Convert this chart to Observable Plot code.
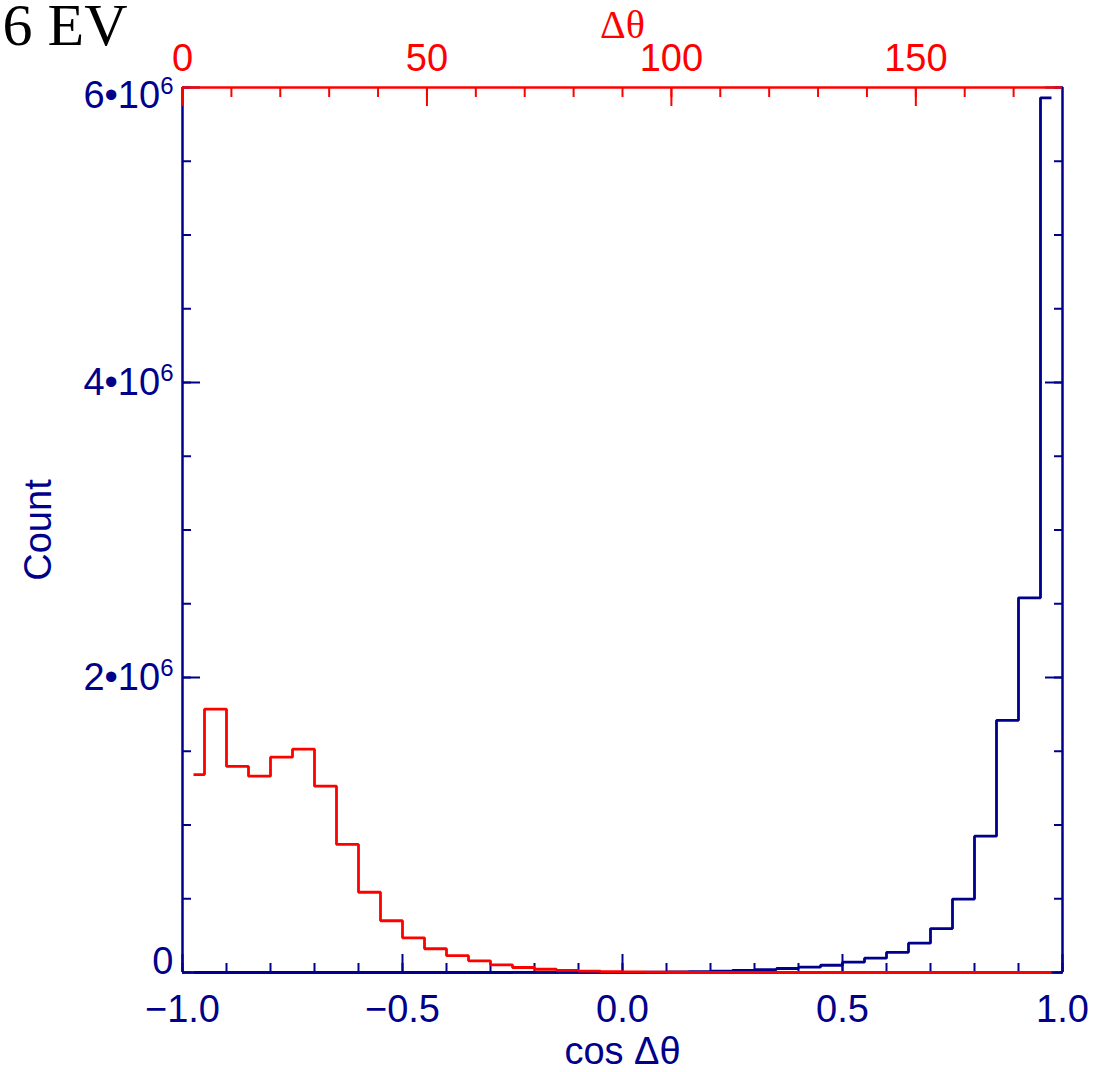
<!DOCTYPE html>
<html>
<head>
<meta charset="utf-8">
<script src="https://cdn.jsdelivr.net/npm/d3@7"></script>
<script src="https://cdn.jsdelivr.net/npm/@observablehq/plot@0.6"></script>
<style>
html, body { margin: 0; padding: 0; background: #fff; }
#chart { position: relative; width: 1095px; height: 1072px; }
#chart svg { position: absolute; left: 0; top: 0; }
</style>
</head>
<body>
<div id="chart"></div>
<script>
// ---------- data ----------
const title = "6 EV";
const xLabel = "cos Δθ";
const topLabel = "Δθ";
const yLabel = "Count";

const cosDomain = [-1, 1];
const thetaDomain = [0, 180];
const countDomain = [0, 6e6];

// blue histogram: bin centres of cos Δθ (width 0.05) and counts
const cosCenters = [-0.975, -0.925, -0.875, -0.825, -0.775, -0.725, -0.675, -0.625, -0.575, -0.525,
  -0.475, -0.425, -0.375, -0.325, -0.275, -0.225, -0.175, -0.125, -0.075, -0.025,
  0.025, 0.075, 0.125, 0.175, 0.225, 0.275, 0.325, 0.375, 0.425, 0.475,
  0.525, 0.575, 0.625, 0.675, 0.725, 0.775, 0.825, 0.875, 0.925, 0.975];
const cosCounts = [0, 0, 0, 0, 0, 0, 0, 0, 0, 0,
  0, 0, 0, 0, 100, 200, 300, 400, 600, 900,
  1500, 2500, 4000, 6500, 10000, 15000, 20000, 27000, 36000, 49000,
  70000, 97000, 137000, 199000, 298000, 498000, 924000, 1710000, 2540000, 5930000];

// red histogram: bin centres of Δθ in degrees (width 4.5) and counts
const thetaCenters = [2.25, 6.75, 11.25, 15.75, 20.25, 24.75, 29.25, 33.75, 38.25, 42.75,
  47.25, 51.75, 56.25, 60.75, 65.25, 69.75, 74.25, 78.75, 83.25, 87.75,
  92.25, 96.75, 101.25, 105.75, 110.25, 114.75, 119.25, 123.75, 128.25, 132.75,
  137.25, 141.75, 146.25, 150.75, 155.25, 159.75, 164.25, 168.75, 173.25, 177.75];
const thetaCounts = [1342000, 1785000, 1397000, 1331000, 1460000, 1514000, 1263000, 868000, 544000, 351000,
  235000, 161000, 114000, 79000, 52000, 34000, 22000, 14000, 9000, 6000,
  4000, 2800, 1800, 1200, 800, 500, 300, 200, 100, 0,
  0, 0, 0, 0, 0, 0, 0, 0, 0, 0];

// ticks
const cosMajorTicks = [-1, -0.5, 0, 0.5, 1];
const cosMinorTicks = [-1, -0.9, -0.8, -0.7, -0.6, -0.5, -0.4, -0.3, -0.2, -0.1, 0,
  0.1, 0.2, 0.3, 0.4, 0.5, 0.6, 0.7, 0.8, 0.9, 1];
const thetaMajorTicks = [0, 50, 100, 150];
const thetaMinorTicks = [0, 10, 20, 30, 40, 50, 60, 70, 80, 90, 100, 110, 120, 130, 140, 150, 160, 170];
const countMajorTicks = [0, 2e6, 4e6, 6e6];
const countMinorTicks = [0, 5e5, 1e6, 1.5e6, 2e6, 2.5e6, 3e6, 3.5e6, 4e6, 4.5e6, 5e6, 5.5e6, 6e6];

// ---------- styling ----------
const NAVY = "#00008b";
const RED = "#ff0000";
const SANS = "'Liberation Sans', Arial, Helvetica, sans-serif";
const SERIF = "'Liberation Serif', 'Times New Roman', serif";
const FS = 38;
const common = {width: 1095, height: 1072, marginLeft: 182, marginRight: 33, marginTop: 87, marginBottom: 100};
const noText = () => "";

const bluePlot = Plot.plot({
  ...common,
  style: {fontFamily: SANS, fontSize: FS + "px", color: NAVY, background: "white", overflow: "visible"},
  x: {domain: cosDomain},
  y: {domain: countDomain},
  marks: [
    Plot.line(cosCenters.map((c, i) => [c, cosCounts[i]]), {curve: "step", stroke: NAVY, strokeWidth: 2.8, strokeLinecap: "butt", strokeLinejoin: "miter"}),
    Plot.ruleX([cosDomain[0], cosDomain[1]], {stroke: NAVY, strokeWidth: 2.5}),
    Plot.ruleY([countDomain[0]], {stroke: NAVY, strokeWidth: 2.5}),
    // bottom axis (inward ticks)
    Plot.axisX({anchor: "bottom", ticks: cosMajorTicks, tickSize: 18, dy: -18, tickFormat: noText, label: null, strokeWidth: 2}),
    Plot.axisX({anchor: "bottom", ticks: cosMinorTicks, tickSize: 9, dy: -9, tickFormat: noText, label: null, strokeWidth: 2}),
    Plot.axisX({anchor: "bottom", ticks: cosMajorTicks, tickSize: 0, tickPadding: 23, tickFormat: d3.format(".1f"), label: null, fontSize: FS}),
    // left axis
    Plot.axisY({anchor: "left", ticks: countMajorTicks, tickSize: 18, dx: 18, tickFormat: noText, label: null, strokeWidth: 2}),
    Plot.axisY({anchor: "left", ticks: countMinorTicks, tickSize: 9, dx: 9, tickFormat: noText, label: null, strokeWidth: 2}),
    Plot.axisY({anchor: "left", ticks: countMajorTicks, tickSize: 0, tickPadding: 9, tickFormat: d => d === 0 ? "0" : `${d / 1e6}•10^6`, label: null, fontSize: FS}),
    // right axis (ticks only)
    Plot.axisY({anchor: "right", ticks: countMajorTicks, tickSize: 18, dx: -18, tickFormat: noText, label: null, strokeWidth: 2}),
    Plot.axisY({anchor: "right", ticks: countMinorTicks, tickSize: 9, dx: -9, tickFormat: noText, label: null, strokeWidth: 2}),
    // labels
    Plot.text([xLabel], {frameAnchor: "bottom", dy: 91, lineAnchor: "bottom", text: d => d, fontSize: FS, fill: NAVY}),
    Plot.text([yLabel], {frameAnchor: "left", dx: -132, rotate: -90, textAnchor: "middle", lineAnchor: "bottom", text: d => d, fontSize: FS, fill: NAVY}),
    Plot.text([title], {frameAnchor: "top-left", dx: -180, dy: -43, textAnchor: "start", lineAnchor: "bottom", text: d => d, fontFamily: SERIF, fontSize: 60, fill: "black"})
  ]
});

const redPlot = Plot.plot({
  ...common,
  style: {fontFamily: SANS, fontSize: FS + "px", color: RED, background: "transparent", overflow: "visible"},
  x: {domain: thetaDomain},
  y: {domain: countDomain, axis: null},
  marks: [
    Plot.line(thetaCenters.map((t, i) => [t, thetaCounts[i]]), {curve: "step", stroke: RED, strokeWidth: 2.8, strokeLinecap: "butt", strokeLinejoin: "miter"}),
    Plot.ruleY([countDomain[1]], {stroke: RED, strokeWidth: 2.5}),
    Plot.axisX({anchor: "top", ticks: thetaMajorTicks, tickSize: 18, dy: 18, tickFormat: noText, label: null, strokeWidth: 2}),
    Plot.axisX({anchor: "top", ticks: thetaMinorTicks, tickSize: 9, dy: 9, tickFormat: noText, label: null, strokeWidth: 2}),
    Plot.axisX({anchor: "top", ticks: thetaMajorTicks, tickSize: 0, tickPadding: 17, tickFormat: d3.format("d"), label: null, fontSize: FS}),
    Plot.text([topLabel], {frameAnchor: "top", dy: -50, lineAnchor: "bottom", text: d => d, fontFamily: SERIF, fontSize: 40, fill: RED})
  ]
});

// superscript exponents on the count labels; nudge end labels inside the axis range
d3.select(bluePlot).selectAll('g[aria-label="y-axis tick label"] text').each(function () {
  const t = this.textContent;
  const sel = d3.select(this);
  const tr = sel.attr("transform") || "";
  if (t.includes("^")) {
    const [base, exp] = t.split("^");
    sel.text(base);
    sel.append("tspan").attr("dy", -14).attr("font-size", 24).text(exp);
    if (base.startsWith("6")) sel.attr("transform", tr + " translate(0,8)");
  } else if (t === "0") {
    sel.attr("transform", tr + " translate(0,-11)");
  }
});

const chart = document.getElementById("chart");
chart.appendChild(bluePlot);
chart.appendChild(redPlot);
</script>
</body>
</html>
